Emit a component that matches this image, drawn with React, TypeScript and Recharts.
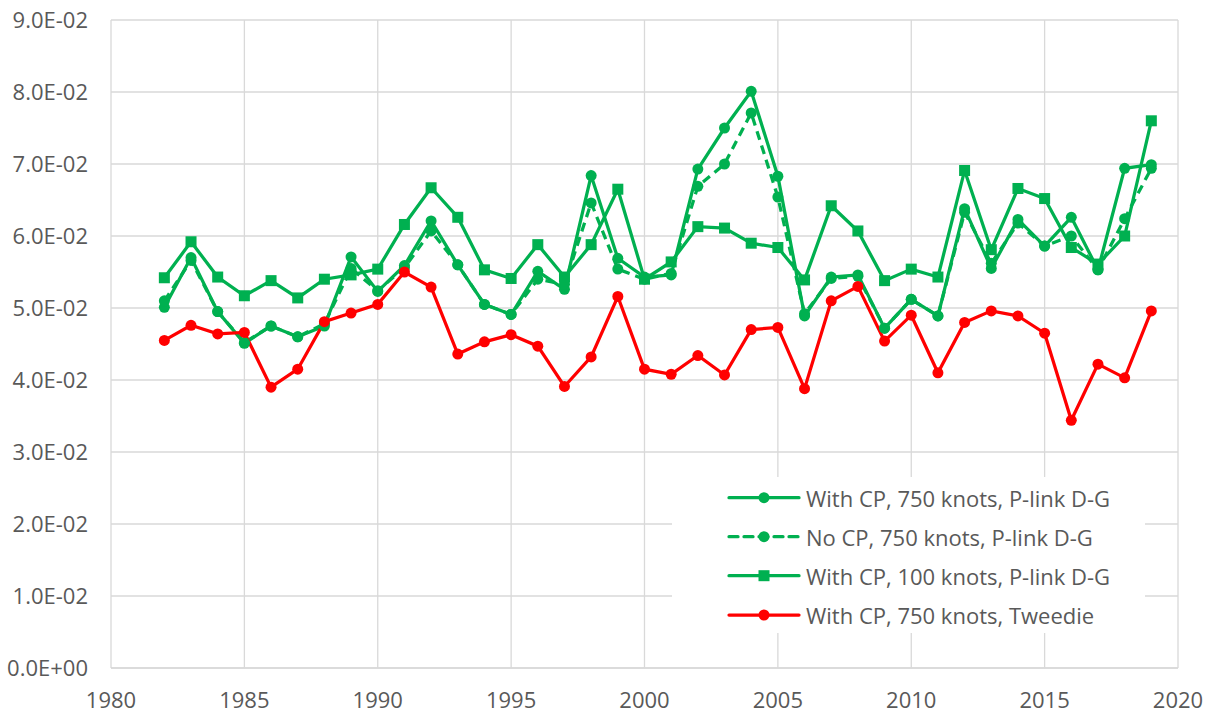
import React from 'react';
import { LineChart, Line, XAxis, YAxis, CartesianGrid, Legend } from 'recharts';

const years = [1982, 1983, 1984, 1985, 1986, 1987, 1988, 1989, 1990, 1991, 1992, 1993, 1994, 1995, 1996, 1997, 1998, 1999, 2000, 2001, 2002, 2003, 2004, 2005, 2006, 2007, 2008, 2009, 2010, 2011, 2012, 2013, 2014, 2015, 2016, 2017, 2018, 2019];

const withCp750 = [0.0501, 0.0570, 0.0495, 0.0451, 0.0475, 0.0460, 0.0475, 0.0571, 0.0523, 0.0559, 0.0621, 0.0560, 0.0505, 0.0491, 0.0551, 0.0526, 0.0684, 0.0569, 0.0543, 0.0546, 0.0693, 0.0750, 0.0801, 0.0683, 0.0489, 0.0543, 0.0546, 0.0472, 0.0512, 0.0489, 0.0638, 0.0555, 0.0623, 0.0586, 0.0626, 0.0553, 0.0694, 0.0699];
const noCp750 = [0.0510, 0.0566, 0.0495, 0.0452, 0.0475, 0.0460, 0.0478, 0.0555, 0.0524, 0.0556, 0.0607, 0.0560, 0.0505, 0.0491, 0.0540, 0.0533, 0.0646, 0.0554, 0.0540, 0.0548, 0.0669, 0.0700, 0.0771, 0.0654, 0.0492, 0.0541, 0.0544, 0.0472, 0.0512, 0.0489, 0.0633, 0.0562, 0.0618, 0.0586, 0.0600, 0.0553, 0.0624, 0.0694];
const withCp100 = [0.0542, 0.0592, 0.0543, 0.0517, 0.0538, 0.0514, 0.0540, 0.0546, 0.0554, 0.0616, 0.0667, 0.0626, 0.0553, 0.0541, 0.0588, 0.0543, 0.0588, 0.0665, 0.0540, 0.0564, 0.0613, 0.0611, 0.0590, 0.0584, 0.0539, 0.0642, 0.0607, 0.0538, 0.0554, 0.0543, 0.0691, 0.0581, 0.0666, 0.0652, 0.0584, 0.0561, 0.0600, 0.0760];
const tweedie = [0.0455, 0.0476, 0.0464, 0.0466, 0.0390, 0.0415, 0.0481, 0.0493, 0.0505, 0.0550, 0.0529, 0.0436, 0.0453, 0.0463, 0.0447, 0.0391, 0.0432, 0.0516, 0.0415, 0.0408, 0.0434, 0.0407, 0.0470, 0.0473, 0.0388, 0.0510, 0.0530, 0.0454, 0.0490, 0.0410, 0.0480, 0.0496, 0.0489, 0.0465, 0.0344, 0.0422, 0.0403, 0.0496];

const xTicks = [1980, 1985, 1990, 1995, 2000, 2005, 2010, 2015, 2020];
const yTicks = [0, 0.01, 0.02, 0.03, 0.04, 0.05, 0.06, 0.07, 0.08, 0.09];

const seriesNames = [
  'With CP, 750 knots, P-link D-G',
  'No CP, 750 knots, P-link D-G',
  'With CP, 100 knots, P-link D-G',
  'With CP, 750 knots, Tweedie',
];

const data = years.map((y, i) => ({
  year: y,
  a: withCp750[i],
  b: noCp750[i],
  c: withCp100[i],
  d: tweedie[i],
}));

const GREEN = '#00B050';
const RED = '#FF0000';
const TEXT = '#595959';
const FONT = '"Open Sans", "Noto Sans", sans-serif';
const FS = 22;

const fmtSci = (v: number) => {
  if (v === 0) return '0.0E+00';
  const e = Math.floor(Math.log10(Math.abs(v)) + 1e-9);
  const m = v / Math.pow(10, e);
  const sign = e < 0 ? '-' : '+';
  const ae = Math.abs(e);
  return `${m.toFixed(1)}E${sign}${ae < 10 ? '0' + ae : ae}`;
};

const SquareDot = (props: any) => {
  const { cx, cy, index } = props;
  if (cx == null || cy == null) return <g key={`sq-${index}`} />;
  return <rect key={`sq-${index}`} x={cx - 5.5} y={cy - 5.5} width={11} height={11} fill={GREEN} />;
};

const LegendContent = () => {
  const rows = [
    { name: seriesNames[0], color: GREEN, dash: undefined, marker: 'circle' },
    { name: seriesNames[1], color: GREEN, dash: '9 6', marker: 'circle' },
    { name: seriesNames[2], color: GREEN, dash: undefined, marker: 'square' },
    { name: seriesNames[3], color: RED, dash: undefined, marker: 'circle' },
  ];
  const ys = [20.7, 59.7, 98.7, 138];
  return (
    <svg width={473} height={156} style={{ display: 'block' }}>
      {rows.map((r, i) => (
        <g key={i}>
          <line x1={57} x2={127} y1={ys[i]} y2={ys[i]} stroke={r.color} strokeWidth={3.25} strokeDasharray={r.dash} strokeLinecap="round" />
          {r.marker === 'circle' ? (
            <circle cx={92} cy={ys[i]} r={5.5} fill={r.color} />
          ) : (
            <rect x={86.5} y={ys[i] - 5.5} width={11} height={11} fill={r.color} />
          )}
          <text x={134} y={ys[i]} dominantBaseline="central" fill={TEXT} fontSize={FS} fontFamily={FONT}>
            {r.name}
          </text>
        </g>
      ))}
    </svg>
  );
};

export default function App() {
  return (
    <div style={{ position: 'absolute', left: 0, top: 0, width: 1213, height: 713, background: '#fff' }}>
      <LineChart width={1213} height={713} data={data} margin={{ top: 20, right: 35, bottom: 0, left: 11 }}>
        <CartesianGrid stroke="#d9d9d9" strokeWidth={1.3} />
        <XAxis
          dataKey="year"
          type="number"
          domain={[1980, 2020]}
          ticks={xTicks}
          interval={0}
          axisLine={{ stroke: '#d9d9d9', strokeWidth: 1.3 }}
          tickLine={false}
          tickSize={0}
          tickMargin={24}
          height={45}
          tick={{ fill: TEXT, fontSize: FS, fontFamily: FONT }}
        />
        <YAxis
          type="number"
          domain={[0, 0.09]}
          ticks={yTicks}
          interval={0}
          width={100}
          axisLine={false}
          tickLine={false}
          tickSize={0}
          tickMargin={23}
          tickFormatter={fmtSci}
          tick={{ fill: TEXT, fontSize: FS, fontFamily: FONT }}
        />
        <Legend
          layout="vertical"
          align="center"
          verticalAlign="middle"
          content={<LegendContent />}
          wrapperStyle={{ position: 'absolute', left: 672, top: 477, width: 473, height: 156, background: '#fff' }}
        />
        <Line dataKey="a" name={seriesNames[0]} stroke={GREEN} strokeWidth={3.25} type="linear" isAnimationActive={false}
          dot={{ r: 5.5, fill: GREEN, stroke: 'none' }} activeDot={false} />
        <Line dataKey="b" name={seriesNames[1]} stroke={GREEN} strokeWidth={3.25} strokeDasharray="9 6" type="linear" isAnimationActive={false}
          dot={{ r: 5.5, fill: GREEN, stroke: 'none', strokeDasharray: '0' }} activeDot={false} />
        <Line dataKey="c" name={seriesNames[2]} stroke={GREEN} strokeWidth={3.25} type="linear" isAnimationActive={false}
          dot={SquareDot} activeDot={false} />
        <Line dataKey="d" name={seriesNames[3]} stroke={RED} strokeWidth={3.25} type="linear" isAnimationActive={false}
          dot={{ r: 5.5, fill: RED, stroke: 'none' }} activeDot={false} />
      </LineChart>
    </div>
  );
}
